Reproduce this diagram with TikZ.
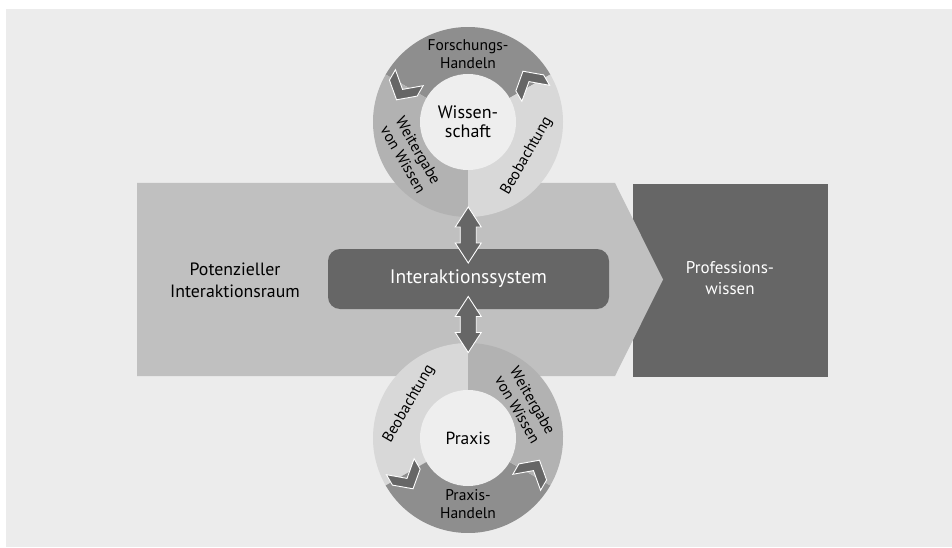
\documentclass[tikz,border=0pt]{standalone}
\usepackage{fontspec}
\setmainfont{PT Sans}
\usetikzlibrary{calc}
\definecolor{bg}{HTML}{ECECEC}
\definecolor{inner}{HTML}{EEEEEE}
\definecolor{darkg}{HTML}{666666}
\definecolor{segA}{HTML}{8E8E8E}
\definecolor{segB}{HTML}{B2B2B2}
\definecolor{segC}{HTML}{D8D8D8}
\definecolor{arrowg}{HTML}{C0C0C0}
\tikzset{
  darkbox/.style={fill=darkg, text=white, inner sep=0pt, align=center, font=\fontsize{17}{21}\selectfont},
  ringtxt/.style={inner sep=0pt, align=center, text=black, font=\fontsize{15.5}{17.5}\selectfont},
  centertxt/.style={circle, fill=inner, minimum size=96pt, inner sep=0pt, align=center, font=\fontsize{18}{19}\selectfont},
  ringnode/.style={circle, minimum size=190pt, inner sep=0pt},
  chev/.pic={\filldraw[fill=darkg, draw=white, line width=0.9pt, line join=miter]
     (89,3) -- (73,16.5) -- (57,3) -- (57,-9) -- (73,4.5) -- (89,-9) -- cycle;},
  dbl/.pic={\filldraw[fill=darkg, draw=white, line width=0.9pt, line join=miter]
     (0,28) -- (13,8) -- (8,8) -- (8,-8) -- (13,-8) -- (0,-28) -- (-13,-8) -- (-8,-8) -- (-8,8) -- (-13,8) -- cycle;}
}
\begin{document}
\begin{tikzpicture}[x=1pt,y=1pt]
\useasboundingbox (0,0) rectangle (952,547);
\fill[white] (0,0) rectangle (952,547);
\fill[bg] (6,0) rectangle (952,538);
% Professionswissen box
\node[darkbox, minimum width=195pt, minimum height=193pt] (prof) at (730.5,266.5) {};
% big arrow
\fill[arrowg] (137,171) -- (615,171) -- (663,267.5) -- (615,364) -- (137,364) -- cycle;
\node[align=center, inner sep=0pt, font=\fontsize{17.8}{22}\selectfont] (pot) at (235,267) {Potenzieller\\Interaktionsraum};
\node[text=white, align=center, inner sep=0pt, font=\fontsize{17}{21}\selectfont] (proftxt) at (730,269) {Professions-\\wissen};
% top ring
\coordinate (tc) at (468,425);
\node[ringnode] (topring) at (tc) {};
\fill[segA] (tc) -- ++(30:95) arc[start angle=30, end angle=150, radius=95] -- cycle;
\fill[segB] (tc) -- ++(150:95) arc[start angle=150, end angle=270, radius=95] -- cycle;
\fill[segC] (tc) -- ++(270:95) arc[start angle=270, end angle=390, radius=95] -- cycle;
\pic[rotate=150] at (tc) {chev};
\pic[rotate=30] at (tc) {chev};
\node[centertxt] (wiss) at (tc) {Wissen-\\schaft};
\node[ringtxt] (fh) at ($(tc)+(90:68)$) {Forschungs-\\Handeln};
\node[ringtxt, rotate=-60] (wvw1) at ($(tc)+(210:66)$) {Weitergabe\\von Wissen};
\node[ringtxt, rotate=60] (beo1) at ($(tc)+(330:68)$) {Beobachtung};
% bottom ring
\coordinate (bc) at (468,109);
\node[ringnode] (botring) at (bc) {};
\fill[segC] (bc) -- ++(90:95) arc[start angle=90, end angle=210, radius=95] -- cycle;
\fill[segA] (bc) -- ++(210:95) arc[start angle=210, end angle=330, radius=95] -- cycle;
\fill[segB] (bc) -- ++(330:95) arc[start angle=330, end angle=450, radius=95] -- cycle;
\pic[rotate=210] at (bc) {chev};
\pic[rotate=330] at (bc) {chev};
\node[centertxt, font=\fontsize{17.5}{19}\selectfont] (praxis) at (bc) {Praxis};
\node[ringtxt] (ph) at ($(bc)+(270:66)$) {Praxis-\\Handeln};
\node[ringtxt, rotate=60] (beo2) at ($(bc)+(150:68)$) {Beobachtung};
\node[ringtxt, rotate=-60] (wvw2) at ($(bc)+(30:66)$) {Weitergabe\\von Wissen};
% Interaktionssystem
\node[darkbox, rounded corners=12pt, minimum width=281pt, minimum height=60pt, font=\fontsize{19.5}{22}\selectfont] (inter) at (468.5,268) {Interaktionssystem};
% double arrows
\pic at ($(topring.south)!0.5!(inter.north)+(0,-2)$) {dbl};
\pic at ($(botring.north)!0.5!(inter.south)+(0,1.5)$) {dbl};
\end{tikzpicture}
\end{document}
